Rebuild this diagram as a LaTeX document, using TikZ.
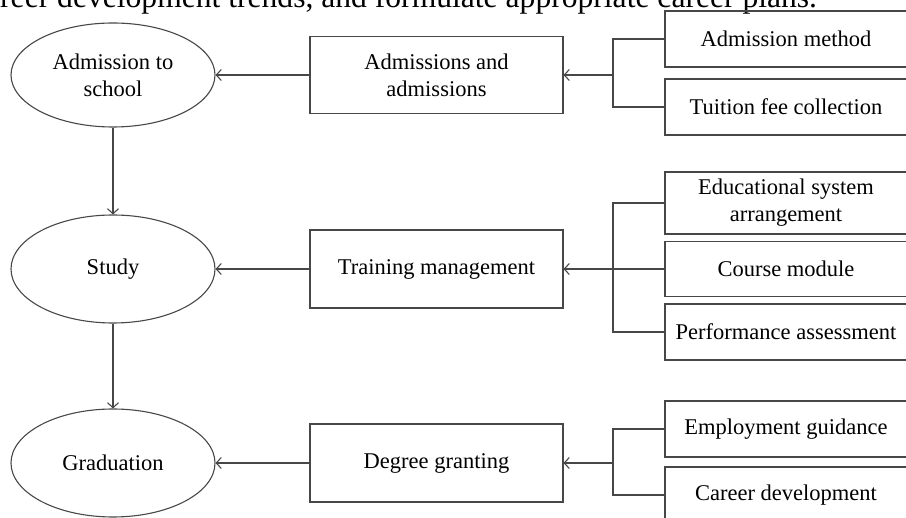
\documentclass[tikz,border=0pt]{standalone}
\usepackage{fontspec}
\setmainfont{Liberation Serif}
\usetikzlibrary{arrows.meta,shapes.geometric}
\tikzset{
  ln/.style={line width=1.1pt, draw=black!72},
  arr/.style={ln, -{Straight Barb[length=5pt,width=11pt,line width=1.1pt]}},
  txt/.style={font=\fontsize{22.5}{27}\selectfont, align=center, text=black},
  stage/.style={ellipse, ln, txt, inner sep=0pt, minimum width=204pt},
  midbox/.style={rectangle, ln, txt, inner sep=0pt, minimum width=253pt, minimum height=77pt},
  subbox/.style={rectangle, ln, txt, inner sep=0pt, minimum width=242pt},
}
\begin{document}
\begin{tikzpicture}[x=1pt, y=-1pt]
\useasboundingbox (0,0) rectangle (906,518);
\begin{scope}
\clip (0,0) rectangle (906,518);
\node[anchor=base west, inner sep=0pt, font=\fontsize{31.6}{36}\selectfont] (top) at (0,8)
  {reer development trends, and formulate appropriate career plans.};

% stages
\node[stage, minimum height=104pt] (e1) at (113,75) {Admission to\\school};
\node[stage, minimum height=108pt] (e2) at (113,269) {Study};
\node[stage, minimum height=108pt] (e3) at (113,463) {Graduation};

% middle boxes
\node[midbox] (b1) at (436.5,75) {Admissions and\\admissions};
\node[midbox, minimum height=78pt] (b2) at (436.5,269) {Training management};
\node[midbox, minimum height=78pt] (b3) at (436.5,463) {Degree granting};

% right boxes
\node[subbox, minimum height=56pt] (r11) at (786,39) {Admission method};
\node[subbox, minimum height=56pt] (r12) at (786,107) {Tuition fee collection};
\node[subbox, minimum height=62pt] (r21) at (786,203) {Educational system\\arrangement};
\node[subbox, minimum height=55pt] (r22) at (786,269) {Course module};
\node[subbox, minimum height=56pt] (r23) at (786,332) {Performance assessment};
\node[subbox, minimum height=56pt] (r31) at (786,429) {Employment guidance};
\node[subbox, minimum height=56pt] (r32) at (786,495) {Career development};

% junctions
\coordinate (j1) at (613,75);
\coordinate (j2) at (613,269);
\coordinate (j3) at (613,463);

% brackets
\draw[ln] (r11.west) -| (j1) |- (r12.west);
\draw[ln] (r21.west) -| (j2) |- (r23.west);
\draw[ln] (r22.west) -- (j2);
\draw[ln] (r31.west) -| (j3) |- (r32.west);

% arrows to middle boxes
\draw[arr] (j1) -- (b1.east);
\draw[arr] (j2) -- (b2.east);
\draw[arr] (j3) -- (b3.east);

% arrows to stages
\draw[arr] (b1.west) -- (e1.east);
\draw[arr] (b2.west) -- (e2.east);
\draw[arr] (b3.west) -- (e3.east);

% vertical flow
\draw[arr] (e1.south) -- (e2.north);
\draw[arr] (e2.south) -- (e3.north);
\end{scope}
\end{tikzpicture}
\end{document}
